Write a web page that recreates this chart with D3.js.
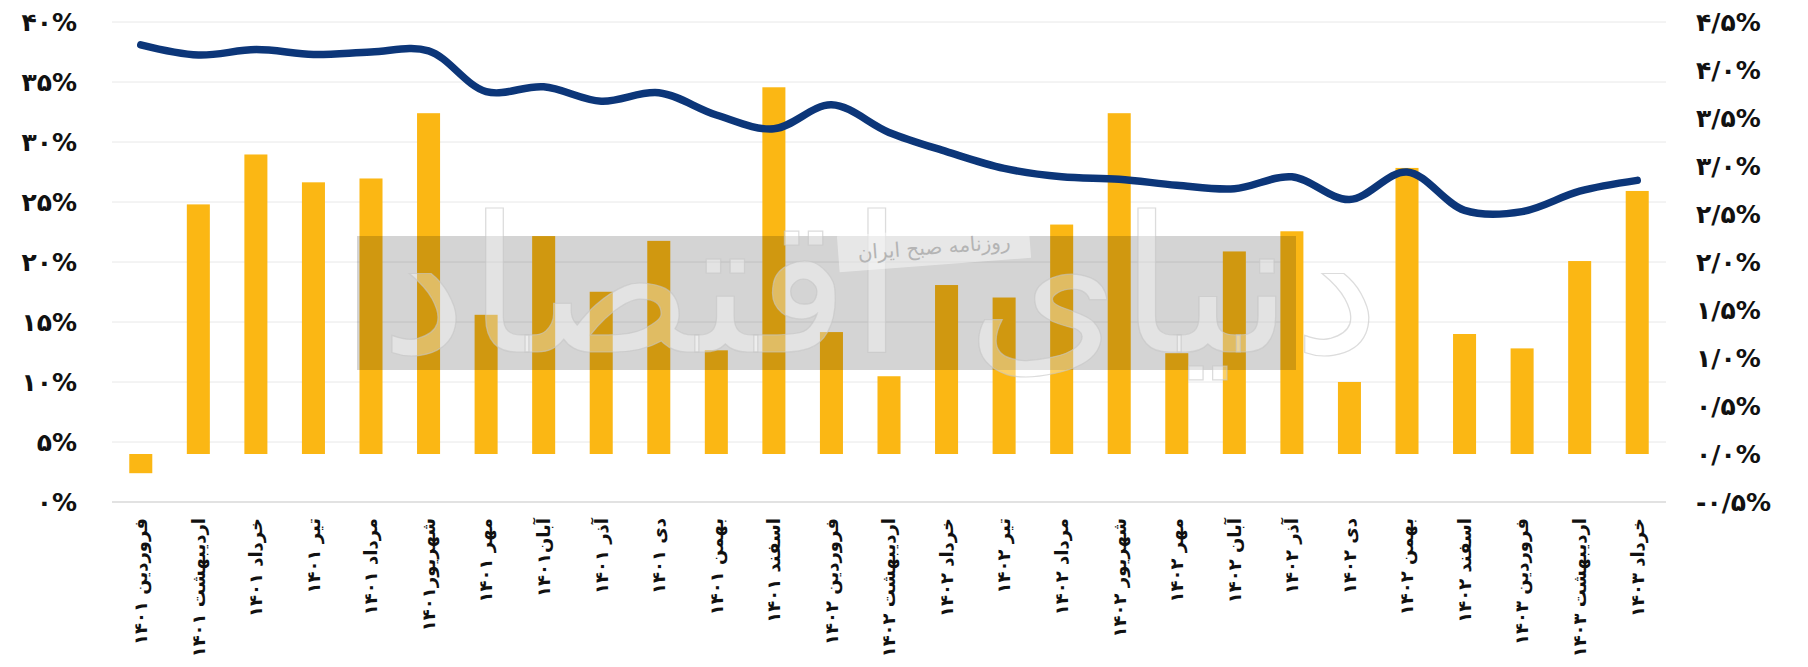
<!DOCTYPE html>
<html>
<head>
<meta charset="utf-8">
<script src="https://cdn.jsdelivr.net/npm/d3@7"></script>
<style>
  body { margin: 0; background: #fff; }
  text { font-family: "DejaVu Sans", sans-serif; font-weight: bold; fill: #111; }
</style>
</head>
<body>
<svg id="chart" width="1808" height="667"></svg>
<script>
const months = [
    "فروردین ۱۴۰۱", "اردیبهشت ۱۴۰۱", "خرداد ۱۴۰۱", "تیر ۱۴۰۱", "مرداد ۱۴۰۱", "شهریور۱۴۰۱",
    "مهر ۱۴۰۱", "آبان۱۴۰۱", "آذر ۱۴۰۱", "دی ۱۴۰۱", "بهمن ۱۴۰۱", "اسفند ۱۴۰۱",
    "فروردین ۱۴۰۲", "اردیبهشت ۱۴۰۲", "خرداد ۱۴۰۲", "تیر ۱۴۰۲", "مرداد ۱۴۰۲", "شهریور ۱۴۰۲",
    "مهر ۱۴۰۲", "آبان ۱۴۰۲", "آذر ۱۴۰۲", "دی ۱۴۰۲", "بهمن ۱۴۰۲", "اسفند ۱۴۰۲",
    "فروردین ۱۴۰۳", "اردیبهشت ۱۴۰۳", "خرداد ۱۴۰۳"
];

// monthly inflation (right axis)
const monthlyValues = [
    -0.20, 2.60, 3.12, 2.83, 2.87, 3.55, 1.45, 2.27, 1.69, 2.22, 1.08, 3.82,
    1.27, 0.81, 1.76, 1.63, 2.39, 3.55, 1.05, 2.11, 2.32, 0.75, 2.98, 1.25,
    1.10, 2.01, 2.74
];

// point-to-point inflation (left axis)
const annualValues = [
    38.1, 37.25, 37.7, 37.3, 37.5, 37.6, 34.2, 34.6, 33.4, 34.1, 32.25, 31.1,
    33.1, 30.8, 29.2, 27.8, 27.1, 26.9, 26.4, 26.1, 27.1, 25.2, 27.5, 24.3,
    24.2, 25.9, 26.8
];

const leftTicks = [0, 5, 10, 15, 20, 25, 30, 35, 40];
const leftTickLabels = ["۰%", "۵%", "۱۰%", "۱۵%", "۲۰%", "۲۵%", "۳۰%", "۳۵%", "۴۰%"];
const rightTicks = [-0.5, 0, 0.5, 1, 1.5, 2, 2.5, 3, 3.5, 4, 4.5];
const rightTickLabels = ["-۰/۵%", "۰/۰%", "۰/۵%", "۱/۰%", "۱/۵%", "۲/۰%", "۲/۵%", "۳/۰%", "۳/۵%", "۴/۰%", "۴/۵%"];

const svg = d3.select("#chart");

const plotLeft = 112, plotRight = 1666, plotTop = 22, plotBottom = 502;

const x = d3.scaleBand()
    .domain(months)
    .range([plotLeft, plotRight])
    .paddingInner(0.6)
    .paddingOuter(0.3);

const yLeft = d3.scaleLinear().domain([0, 40]).range([plotBottom, plotTop]);
const yRight = d3.scaleLinear().domain([-0.5, 4.5]).range([plotBottom, plotTop]);

//GRID
svg.append("g")
    .selectAll("line")
    .data(leftTicks)
    .enter()
    .append("line")
    .attr("x1", plotLeft)
    .attr("x2", plotRight)
    .attr("y1", d => yLeft(d))
    .attr("y2", d => yLeft(d))
    .attr("stroke", d => d === 0 ? "#d9d9d9" : "#e8e8e8")
    .attr("stroke-width", d => d === 0 ? 1.5 : 1);

//BARS
svg.append("g")
    .selectAll("rect")
    .data(monthlyValues)
    .enter()
    .append("rect")
    .attr("x", (d, i) => x(months[i]))
    .attr("width", x.bandwidth())
    .attr("y", d => yRight(Math.max(0, d)))
    .attr("height", d => Math.abs(yRight(d) - yRight(0)))
    .attr("fill", "#fbb714");

//WATERMARK
const wm = svg.append("g").attr("class", "watermark");
wm.append("rect")
    .attr("x", 357).attr("y", 236)
    .attr("width", 939).attr("height", 134)
    .attr("fill", "#000")
    .attr("opacity", 0.17);

wm.append("text")
    .attr("x", 880).attr("y", 352)
    .attr("text-anchor", "middle")
    .attr("font-size", 190)
    .attr("textLength", 1000)
    .attr("lengthAdjust", "spacingAndGlyphs")
    .style("fill", "#fff")
    .style("fill-opacity", 0.35)
    .style("stroke", "#c4c4c4")
    .style("stroke-opacity", 0.6)
    .style("stroke-width", 1.2)
    .style("font-weight", "normal")
    .text("دنیای اقتصاد");

const badge = wm.append("g").attr("transform", "translate(934,247) rotate(-4.3)");
badge.append("rect")
    .attr("x", -95).attr("y", -17)
    .attr("width", 190).attr("height", 34)
    .attr("fill", "#fff")
    .attr("opacity", 0.45)
    .attr("stroke", "#fff")
    .attr("stroke-width", 2);
badge.append("text")
    .attr("text-anchor", "middle")
    .attr("dy", "0.35em")
    .attr("font-size", 20)
    .style("fill", "#b4b4b4")
    .style("font-weight", "normal")
    .text("روزنامه صبح ایران");

//LINE
const line = d3.line()
    .x((d, i) => x(months[i]) + x.bandwidth() / 2)
    .y(d => yLeft(d))
    .curve(d3.curveCatmullRom.alpha(0.5));

svg.append("path")
    .datum(annualValues)
    .attr("d", line)
    .attr("fill", "none")
    .attr("stroke", "#0c3679")
    .attr("stroke-width", 7.5)
    .attr("stroke-linecap", "round");

//AXES
const leftAxis = svg.append("g")
    .attr("transform", "translate(" + plotLeft + ",0)")
    .call(d3.axisLeft(yLeft)
        .tickValues(leftTicks)
        .tickFormat((d, i) => leftTickLabels[i])
        .tickSize(0)
        .tickPadding(35));
leftAxis.select(".domain").remove();
leftAxis.selectAll("text")
    .attr("font-size", 25)
    .attr("font-family", "DejaVu Sans")
    .attr("fill", "#111");

const rightAxis = svg.append("g")
    .attr("transform", "translate(" + plotRight + ",0)")
    .call(d3.axisRight(yRight)
        .tickValues(rightTicks)
        .tickFormat((d, i) => rightTickLabels[i])
        .tickSize(0)
        .tickPadding(30));
rightAxis.select(".domain").remove();
rightAxis.selectAll("text")
    .attr("font-size", 25)
    .attr("font-family", "DejaVu Sans")
    .attr("fill", "#111");

const bottomAxis = svg.append("g")
    .attr("transform", "translate(0," + plotBottom + ")")
    .call(d3.axisBottom(x).tickSize(0));
bottomAxis.select(".domain").remove();
bottomAxis.selectAll("text")
    .attr("transform", "rotate(-90)")
    .attr("x", -16)
    .attr("y", 0)
    .attr("dy", "0.35em")
    .attr("text-anchor", "end")
    .attr("font-size", 18)
    .attr("font-family", "DejaVu Sans")
    .attr("fill", "#111");
</script>
</body>
</html>
